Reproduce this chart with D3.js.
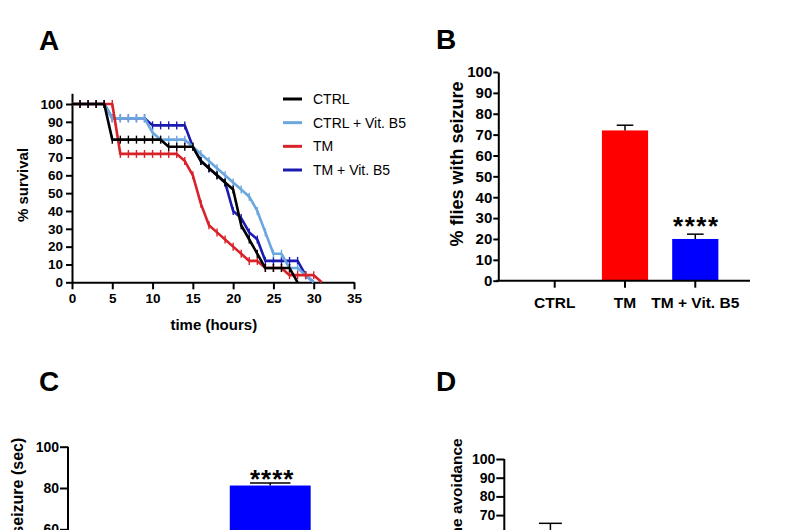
<!DOCTYPE html>
<html><head><meta charset="utf-8">
<script src="https://cdn.jsdelivr.net/npm/d3@7"></script>
<style>
body{margin:0;background:#fff}
svg{display:block}
text{font-family:"Liberation Sans",Arial,Helvetica,sans-serif}
</style>
</head><body>
<svg id="chart" width="800" height="530"></svg>
<script>
// ---------- DATA ----------
// Panel A: survival (%) by hour
const survivalHours = [0,1,2,3,4,5,6,7,8,9,10,11,12,13,14,15,16,17,18,19,20,21,22,23,24,25,26,27,28,29,30,31];
const survCtrl   = [100,100,100,100,100,80,80,80,80,80,80,80,76,76,76,76,68,64,60,56,52,32,24,16,8,8,8,8,0,null,null,null];
const survCtrlB5 = [100,100,100,100,100,92,92,92,92,92,84,80,80,80,80,76,72,68,64,60,56,52,48,40,28,16,16,8,8,4,0,null];
const survTM     = [100,100,100,100,100,100,72,72,72,72,72,72,72,72,68,60,44,32,28,24,20,16,12,12,8,8,8,4,4,4,4,0];
const survTMB5   = [100,100,100,100,100,92,92,92,92,92,88,88,88,88,88,76,68,64,60,56,40,36,28,24,12,12,12,12,12,4,0,null];
const seriesNames = ["CTRL","CTRL + Vit. B5","TM","TM + Vit. B5"];
const seriesColors = ["#000000","#6aa7df","#d8232a","#1b1bb0"];
const survXTicks = [0,5,10,15,20,25,30,35];
const survYTicks = [0,10,20,30,40,50,60,70,80,90,100];

// Panel B: % flies with seizure
const bCats = ["CTRL","TM","TM + Vit. B5"];
const bValues = [0,72,20];
const bErrors = [0,2.5,2.3];
const bColors = ["#ffffff","#ff0000","#0000ff"];
const bStars = ["","","****"];
const bYTicks = [0,10,20,30,40,50,60,70,80,90,100];

// Panel C: latency to seizure (sec) – only the upper part is visible
const cCats = ["TM","TM + Vit. B5"];
const cValues = [null,81.2];
const cErrors = [null,1.2];
const cColors = ["#ff0000","#0000ff"];
const cStars = ["","****"];
const cYTicks = [60,80,100];

// Panel D: avoidance (%) – only the upper part is visible
const dCats = ["CTRL","TM","TM + Vit. B5"];
const dValues = [58,null,null];
const dErrors = [7.6,null,null];
const dYTicks = [70,80,90,100];

// ---------- DRAWING ----------
const svg = d3.select("#chart");
const FONT = '"Liberation Sans",Arial,Helvetica,sans-serif';

function styleAxis(g, fontSize){
  g.selectAll("path.domain").attr("stroke","#000").attr("stroke-width",2);
  g.selectAll(".tick line").attr("stroke","#000").attr("stroke-width",2);
  g.selectAll(".tick text").attr("fill","#000").style("font-family",FONT)
    .style("font-weight","bold").style("font-size",fontSize+"px");
}
function panelLetter(t,x,y){
  svg.append("text").attr("x",x).attr("y",y).text(t)
    .style("font-size","28px").style("font-weight","bold").attr("fill","#000");
}

// ===== Panel A =====
panelLetter("A",39,50);
const xA = d3.scaleLinear().domain([0,35]).range([72,354]);
const yA = d3.scaleLinear().domain([0,106]).range([282.3,93.3]);
const gA = svg.append("g");

const yAxA = gA.append("g").attr("transform",`translate(${xA(0)},0)`)
  .call(d3.axisLeft(yA).tickValues(survYTicks).tickSize(6).tickSizeOuter(0).tickPadding(3));
styleAxis(yAxA,13.5);
const xAxA = gA.append("g").attr("transform",`translate(0,${yA(0)})`)
  .call(d3.axisBottom(xA).tickValues(survXTicks).tickSize(7).tickSizeOuter(0));
styleAxis(xAxA,13.5);
xAxA.selectAll(".tick text").attr("y",20.4).attr("dy",null);

gA.append("text").attr("transform",`translate(28.3,185) rotate(-90)`)
  .attr("text-anchor","middle").text("% survival")
  .style("font-size","15px").style("font-weight","bold");
gA.append("text").attr("x",213.8).attr("y",330).attr("text-anchor","middle")
  .text("time (hours)").style("font-size","15px").style("font-weight","bold");

const allSeries = [survCtrl,survCtrlB5,survTM,survTMB5];
const drawOrder = [3,1,2,0];
const line = d3.line().defined(d=>d.v!=null).x(d=>xA(d.t)).y(d=>yA(d.v));
drawOrder.forEach(i=>{
  const pts = survivalHours.map((t,k)=>({t:t,v:allSeries[i][k]}));
  gA.append("path").datum(pts).attr("d",line).attr("fill","none")
    .attr("stroke",seriesColors[i]).attr("stroke-width",2.6).attr("stroke-linejoin","round");
  gA.selectAll(null).data(pts.filter((d,k)=>k>0 && d.v!=null && d.v>0)).enter().append("line")
    .attr("x1",d=>xA(d.t)).attr("x2",d=>xA(d.t))
    .attr("y1",d=>yA(d.v)-4).attr("y2",d=>yA(d.v)+4)
    .attr("stroke",seriesColors[i]).attr("stroke-width",1.4);
});

// legend
const legY = d3.scalePoint().domain(seriesNames).range([99,170]);
const leg = gA.append("g");
seriesNames.forEach((n,i)=>{
  leg.append("line").attr("x1",283).attr("x2",302).attr("y1",legY(n)).attr("y2",legY(n))
    .attr("stroke",seriesColors[i]).attr("stroke-width",3);
  leg.append("text").attr("x",313).attr("y",legY(n)+5).text(n)
    .style("font-size","14px").attr("fill","#000");
});

// ===== Panel B =====
panelLetter("B",436,49);
const xB = d3.scaleBand().domain(bCats).range([500,750]).paddingInner(0.343).paddingOuter(0.45);
const yB = d3.scaleLinear().domain([0,100]).range([280.7,72]);
const gB = svg.append("g");
gB.selectAll("rect").data(bCats).enter().append("rect")
  .attr("x",d=>xB(d)).attr("width",xB.bandwidth())
  .attr("y",(d,i)=>yB(bValues[i])).attr("height",(d,i)=>yB(0)-yB(bValues[i]))
  .attr("fill",(d,i)=>bColors[i]);
bCats.forEach((c,i)=>{
  if(!bValues[i]) return;
  const cx = xB(c)+xB.bandwidth()/2, cw = xB.bandwidth()*0.36;
  gB.append("line").attr("x1",cx).attr("x2",cx).attr("y1",yB(bValues[i])).attr("y2",yB(bValues[i]+bErrors[i]))
    .attr("stroke","#000").attr("stroke-width",1.5);
  gB.append("line").attr("x1",cx-cw/2).attr("x2",cx+cw/2).attr("y1",yB(bValues[i]+bErrors[i])).attr("y2",yB(bValues[i]+bErrors[i]))
    .attr("stroke","#000").attr("stroke-width",1.5);
  if(bStars[i]) gB.append("text").attr("x",cx+1).attr("y",yB(bValues[i]+bErrors[i])+1)
    .attr("text-anchor","middle").text(bStars[i])
    .style("font-size","26px").style("font-weight","bold").style("letter-spacing","1.5px");
});
const yAxB = gB.append("g").attr("transform","translate(498.3,0)")
  .call(d3.axisLeft(yB).tickValues(bYTicks).tickSize(5).tickSizeOuter(0).tickPadding(1));
styleAxis(yAxB,15);
const xAxB = gB.append("g").attr("transform",`translate(0,${yB(0)})`)
  .call(d3.axisBottom(xB).tickSize(7).tickSizeOuter(0));
styleAxis(xAxB,15.5);
xAxB.select("path.domain").attr("d","M-2,0H251.7").attr("transform","translate(498.3,0)");
xAxB.selectAll(".tick text").attr("y",27.3).attr("dy",null);
gB.append("text").attr("transform","translate(463,164) rotate(-90)").attr("text-anchor","middle")
  .text("% flies with seizure").style("font-size","18px").style("font-weight","bold");

// ===== Panel C =====
panelLetter("C",39,391);
const xC = d3.scaleBand().domain(cCats).range([68,348]).paddingInner(0.35).paddingOuter(0.3);
const yC = d3.scaleLinear().domain([0,100]).range([653.2,446.7]);
const gC = svg.append("g");
cCats.forEach((c,i)=>{
  if(cValues[i]==null) return;
  const cx = xC(c)+xC.bandwidth()/2, cw = xC.bandwidth()*0.5;
  gC.append("rect").attr("x",xC(c)).attr("width",xC.bandwidth())
    .attr("y",yC(cValues[i])).attr("height",yC(0)-yC(cValues[i])).attr("fill",cColors[i]);
  gC.append("line").attr("x1",cx).attr("x2",cx).attr("y1",yC(cValues[i])).attr("y2",yC(cValues[i]+cErrors[i]))
    .attr("stroke","#000").attr("stroke-width",1.5);
  gC.append("line").attr("x1",cx-cw/2).attr("x2",cx+cw/2).attr("y1",yC(cValues[i]+cErrors[i])).attr("y2",yC(cValues[i]+cErrors[i]))
    .attr("stroke","#000").attr("stroke-width",1.5);
  if(cStars[i]) gC.append("text").attr("x",cx+2).attr("y",yC(cValues[i]+cErrors[i])+5)
    .attr("text-anchor","middle").text(cStars[i])
    .style("font-size","26px").style("font-weight","bold").style("letter-spacing","1px");
});
const yAxC = gC.append("g").attr("transform","translate(68,0)")
  .call(d3.axisLeft(yC).tickValues(cYTicks).tickSize(8).tickSizeOuter(0).tickPadding(1));
styleAxis(yAxC,14);
yAxC.select("path.domain").attr("d",`M0,${yC(100)}V${yC(0)}`);
gC.append("text").attr("transform","translate(23.3,437.7) rotate(-90)").attr("text-anchor","end")
  .text("Latency to seizure (sec)").style("font-size","16px").style("font-weight","bold");

// ===== Panel D =====
panelLetter("D",436,391);
const xD = d3.scaleBand().domain(dCats).range([504,706]).paddingInner(0.3).paddingOuter(0.5);
const yD = d3.scaleLinear().domain([0,100]).range([646,459]);
const gD = svg.append("g");
dCats.forEach((c,i)=>{
  if(dValues[i]==null) return;
  const cx = xD(c)+xD.bandwidth()/2, cw = xD.bandwidth()*0.6;
  gD.append("rect").attr("x",xD(c)).attr("width",xD.bandwidth())
    .attr("y",yD(dValues[i])).attr("height",yD(0)-yD(dValues[i]))
    .attr("fill","#ffffff").attr("stroke","#000").attr("stroke-width",1.5);
  gD.append("line").attr("x1",cx).attr("x2",cx).attr("y1",yD(dValues[i])).attr("y2",yD(dValues[i]+dErrors[i]))
    .attr("stroke","#000").attr("stroke-width",1.5);
  gD.append("line").attr("x1",cx-cw/2).attr("x2",cx+cw/2).attr("y1",yD(dValues[i]+dErrors[i])).attr("y2",yD(dValues[i]+dErrors[i]))
    .attr("stroke","#000").attr("stroke-width",1.5);
});
const yAxD = gD.append("g").attr("transform","translate(504.3,0)")
  .call(d3.axisLeft(yD).tickValues(dYTicks).tickSize(8).tickSizeOuter(0).tickPadding(1));
styleAxis(yAxD,14);
yAxD.select("path.domain").attr("d",`M0,${yD(100)}V${yD(0)}`);
gD.append("text").attr("transform","translate(461.7,438.3) rotate(-90)").attr("text-anchor","end")
  .text("% Quinine avoidance").style("font-size","15.5px").style("font-weight","bold");
</script>
</body></html>
